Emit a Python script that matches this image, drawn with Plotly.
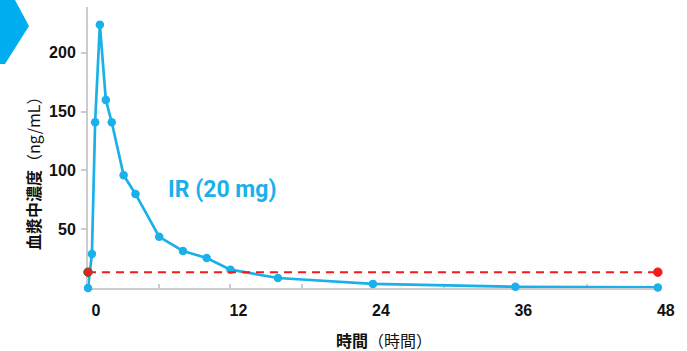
import plotly.graph_objects as go

# Data
time_h = [0, 0.33, 0.6, 1, 1.5, 2, 3, 4, 6, 8, 10, 12, 16, 24, 36, 48]
conc = [0, 29, 141, 224, 160, 141, 96, 80, 43.5, 31.5, 25.5, 15.6, 8.5, 3.5, 1.0, 0.5]
threshold_x = [0, 48]
threshold_y = [13.5, 13.5]
x_tickvals = [0, 6, 12, 18, 24, 30, 36, 42, 48]
x_ticktext = ["0", "", "12", "", "24", "", "36", "", "48"]
y_tickvals = [50, 100, 150, 200]

BLUE = "#1ab0ea"
RED = "#f21c1c"

W, H = 687, 351
L, R, T, B = 88, 28, 7, 63
pw, ph = W - L - R, H - T - B

def px(x):
    return (x - L) / pw

def py(y):
    return (H - B - y) / ph

fig = go.Figure()
fig.add_trace(go.Scatter(
    x=time_h, y=conc, mode="lines+markers",
    line=dict(color=BLUE, width=2.7),
    marker=dict(color=BLUE, size=8.5),
    cliponaxis=False, showlegend=False, hoverinfo="skip"))
fig.add_trace(go.Scatter(
    x=threshold_x, y=threshold_y, mode="lines+markers",
    line=dict(color=RED, width=2, dash="8px,6px"),
    marker=dict(color=RED, size=8.5, line=dict(color=["#4a6a3a", RED], width=1)),
    cliponaxis=False, showlegend=False, hoverinfo="skip"))

# chevron decoration (top-left)
fig.add_shape(type="path", xref="paper", yref="paper",
              path=f"M {px(0)} {py(0)} L {px(15)} {py(0)} L {px(29)} {py(26)} L {px(5)} {py(64)} L {px(0)} {py(64)} Z",
              fillcolor="#00aeef", line=dict(width=0), layer="above")

fig.add_annotation(xref="paper", yref="paper", x=px(222), y=py(189),
                   xanchor="center", yanchor="middle",
                   text="<b>IR (20 mg)</b>", showarrow=False,
                   font=dict(family="Roboto", size=23, color=BLUE))
fig.add_annotation(xref="paper", yref="paper", x=px(33), y=py(170),
                   xanchor="center", yanchor="middle",
                   text="<b>血漿中濃度</b>（ng/mL）", textangle=-90, showarrow=False,
                   font=dict(family="Noto Sans CJK JP", size=16, color="#111111"))
fig.add_annotation(xref="paper", yref="paper", x=px(384), y=py(340),
                   xanchor="center", yanchor="middle",
                   text="<b>時間</b>（時間）", showarrow=False,
                   font=dict(family="Noto Sans CJK JP", size=16, color="#111111"))

fig.update_layout(
    width=W, height=H,
    margin=dict(l=L, r=R, t=T, b=B, pad=0),
    paper_bgcolor="white", plot_bgcolor="white",
    xaxis=dict(range=[0, 48.1], tickvals=x_tickvals, ticktext=x_ticktext,
               showgrid=False, zeroline=False, showline=True, layer="below traces",
               linecolor="#cccccc", linewidth=2,
               ticks="inside", ticklen=4, tickcolor="#cccccc", tickwidth=1.5,
               ticklabelshift=8, ticklabelstandoff=7,
               tickfont=dict(family="Liberation Sans", size=16, color="#111111", weight="bold")),
    yaxis=dict(range=[0, 239], tickvals=y_tickvals,
               showgrid=False, zeroline=False, showline=True, layer="below traces",
               linecolor="#cccccc", linewidth=2,
               ticks="outside", ticklen=5, tickcolor="#cccccc", tickwidth=1.5,
               ticklabelstandoff=2,
               tickfont=dict(family="Liberation Sans", size=16, color="#111111", weight="bold")),
)

fig.write_html("out.html", config={"displayModeBar": False},
               post_script="document.body.style.margin='0';document.body.style.overflow='hidden';")
